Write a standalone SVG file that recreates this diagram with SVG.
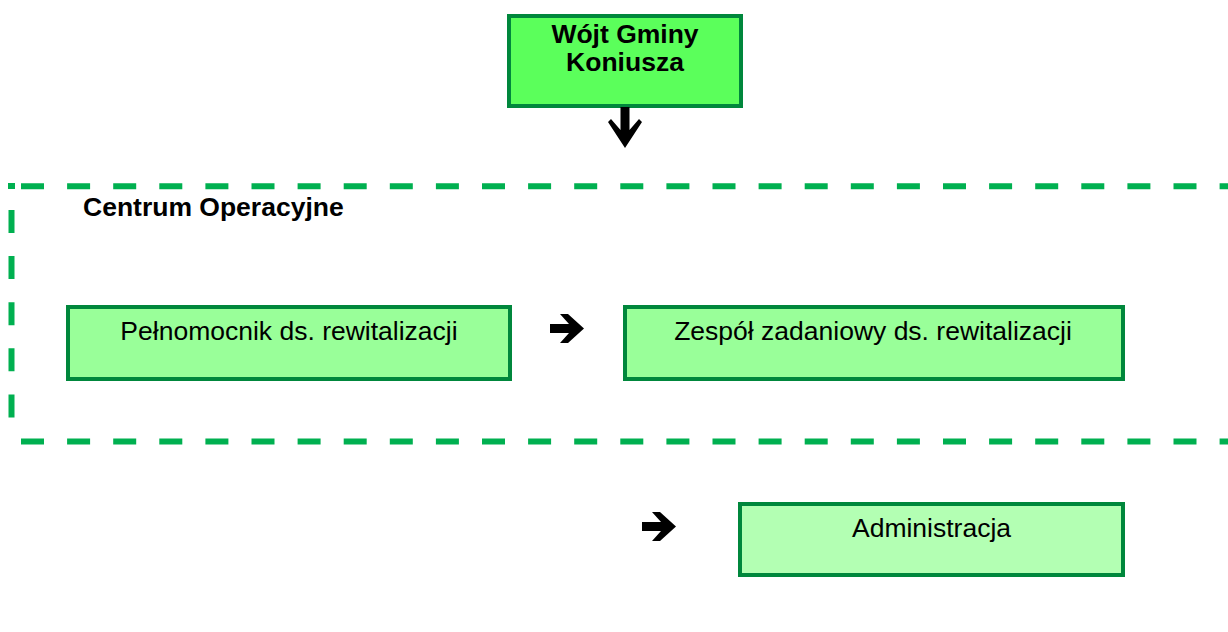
<svg xmlns="http://www.w3.org/2000/svg" width="1228" height="632" viewBox="0 0 1228 632">
<style>
text{font-family:"Liberation Sans",Arial,sans-serif;font-size:26.5px;fill:#000}
.b{font-weight:bold}
.box{stroke:#00873c;stroke-width:4}
.dash{stroke:#00b050;stroke-width:6;fill:none;stroke-dasharray:23 23.1}
.arr{fill:#000}
</style>
<defs>
<path id="rarr" d="M-34,-4.5 L-15,-4.5 L-24,-14.5 L-16,-14.5 L0,0 L-16,14.5 L-24,14.5 L-15,4.5 L-34,4.5 Z"/>
</defs>
<rect width="1228" height="632" fill="#fff"/>
<g id="centrum-operacyjne">
<rect x="8" y="183" width="7" height="6" fill="#00b050"/>
<line class="dash" x1="21" y1="186.2" x2="1228" y2="186.2"/>
<line class="dash" x1="11.5" y1="210" x2="11.5" y2="420"/>
<line class="dash" x1="21" y1="441.5" x2="1228" y2="441.5"/>
<text class="b" x="83" y="216">Centrum Operacyjne</text>
</g>
<g id="wojt">
<rect class="box" x="509" y="16" width="232" height="90" fill="#5bff5b"/>
<text class="b" x="625" y="43" text-anchor="middle">Wójt Gminy</text>
<text class="b" x="625" y="71" text-anchor="middle">Koniusza</text>
</g>
<g id="pelnomocnik">
<rect class="box" x="68" y="307" width="442" height="72" fill="#99ff99"/>
<text x="289" y="340" text-anchor="middle">Pełnomocnik ds. rewitalizacji</text>
</g>
<g id="zespol">
<rect class="box" x="625" y="307" width="498" height="72" fill="#99ff99"/>
<text x="873" y="340" text-anchor="middle">Zespół zadaniowy ds. rewitalizacji</text>
</g>
<g id="administracja">
<rect class="box" x="740" y="504" width="383" height="71" fill="#b3ffb3"/>
<text x="931.5" y="537" text-anchor="middle">Administracja</text>
</g>
<g id="connectors" class="arr">
<path d="M620.5,107 L629.5,107 L629.5,130 L639,119 L642,122 L625,148 L608,122 L611,119 L620.5,130 Z"/>
<use href="#rarr" transform="translate(584,328.5)"/>
<use href="#rarr" transform="translate(676,526.5)"/>
</g>
</svg>
